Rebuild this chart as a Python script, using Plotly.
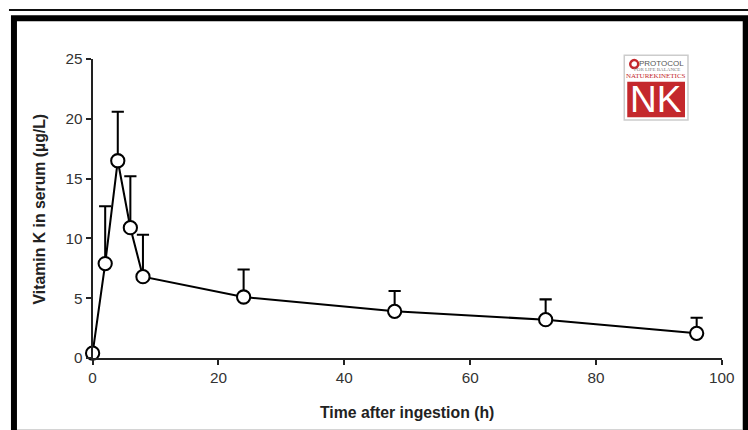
import plotly.graph_objects as go

# Data
time_h = [0, 2, 4, 6, 8, 24, 48, 72, 96]
vitk = [0.4, 7.9, 16.5, 10.9, 6.8, 5.1, 3.9, 3.2, 2.06]
err_plus = [None, 4.8, 4.1, 4.3, 3.5, 2.3, 1.7, 1.7, 1.3]
x_ticks = [0, 20, 40, 60, 80, 100]
y_ticks = [0, 5, 10, 15, 20, 25]
x_title = "Time after ingestion (h)"
y_title = "Vitamin K in serum (µg/L)"

# the captured picture comes out slightly reduced, so the figure is drawn a bit larger
SX, SY = 0.982, 0.978
W, H = round(748 / SX), round(430 / SY)
K = 1 / SX
def px(x):
    return (x / SX) / W
def py(y):
    return 1 - (y / SY) / H

fig = go.Figure()
fig.add_trace(go.Scatter(
    x=time_h, y=vitk, mode="lines+markers",
    line=dict(color="black", width=2 * K),
    marker=dict(size=13 * K, color="white", line=dict(color="black", width=2 * K)),
    error_y=dict(type="data", symmetric=False, array=err_plus,
                 arrayminus=[0] * len(err_plus), color="black",
                 thickness=2 * K, width=6 * K),
    cliponaxis=False, showlegend=False,
))

tickfont = dict(family="Liberation Sans, Arial, sans-serif", size=15.3, color="#333")
fig.update_layout(
    width=W, height=H, margin=dict(l=0, r=0, t=0, b=0),
    paper_bgcolor="white", plot_bgcolor="white",
    xaxis=dict(domain=[px(89), px(721)], range=[0, 100], tickvals=x_ticks,
               showline=True, linecolor="#222", linewidth=2, ticks="outside",
               ticklen=5, tickwidth=2, tickcolor="#222", showgrid=False,
               zeroline=False, tickfont=tickfont, anchor="y"),
    yaxis=dict(domain=[py(355), py(51)], range=[0, 25], tickvals=y_ticks,
               showline=True, linecolor="#222", linewidth=2, ticks="outside",
               ticklen=5, tickwidth=2, tickcolor="#222", showgrid=False,
               zeroline=False, tickfont=tickfont, anchor="x"),
)

def ann(text, x, y, font, **kw):
    fig.add_annotation(text=text, xref="paper", yref="paper", x=px(x), y=py(y),
                       xanchor="center", yanchor="middle", showarrow=False,
                       font=font, **kw)

titlefont = dict(family="Liberation Sans, Arial, sans-serif", size=15.8, color="#222")
ann("<b>" + x_title + "</b>", 405, 410, titlefont)
ann("<b>" + y_title + "</b>", 36, 203, titlefont, textangle=-90)

# Frame
fig.add_shape(type="line", xref="paper", yref="paper", x0=px(5), x1=1,
              y0=py(1), y1=py(1), line=dict(color="#111", width=2))
fig.add_shape(type="path", xref="paper", yref="paper",
              path=f"M {px(10)} 0 L {px(10)} {py(9.5)} L {px(745)} {py(9.5)} L {px(745)} 0",
              line=dict(color="black", width=6))
fig.add_shape(type="line", xref="paper", yref="paper", x0=px(13), x1=px(742),
              y0=py(428.5), y1=py(428.5), line=dict(color="#aaa", width=1.5))

# Logo
fig.add_shape(type="rect", xref="paper", yref="paper", x0=px(623), x1=px(687),
              y0=py(113), y1=py(47), line=dict(color="#ccc", width=1.5),
              fillcolor="white")
fig.add_shape(type="rect", xref="paper", yref="paper", x0=px(626), x1=px(684),
              y0=py(110), y1=py(74), line=dict(width=0), fillcolor="#c4282c")
fig.add_shape(type="circle", xref="paper", yref="paper", x0=px(629), x1=px(637),
              y0=py(60), y1=py(52), line=dict(color="#c4282c", width=2.5))
ann("PROTOCOL", 660, 55, dict(family="Liberation Sans", size=8, color="#555"))
ann("FOR LIFE BALANCE", 656, 61.5, dict(family="Liberation Serif", size=5, color="#777"))
ann("NATUREKINETICS", 655, 68, dict(family="Liberation Serif", size=7, color="#c4282c"))
ann("NK", 655, 92.5, dict(family="Liberation Sans", size=37, color="white"))

fig.write_html("out.html")
